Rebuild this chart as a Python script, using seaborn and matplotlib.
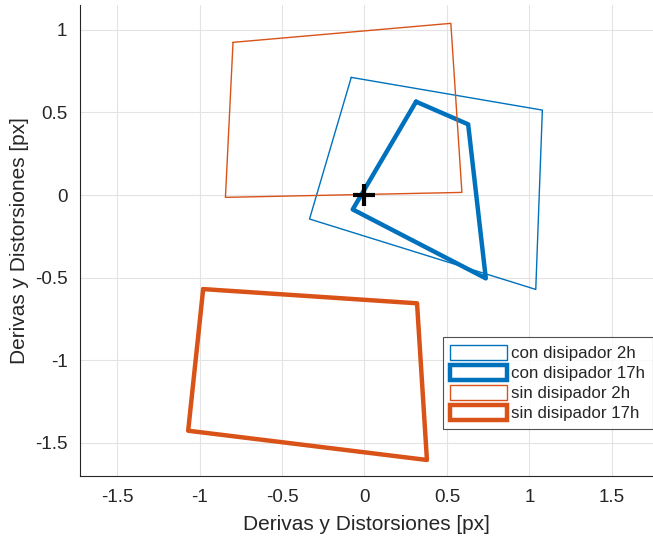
import matplotlib
matplotlib.use("Agg")
import matplotlib.pyplot as plt
import seaborn as sns
import pandas as pd
from matplotlib.patches import Patch

# Data (polygon vertices, closed)
con2h_x = [-0.08, 1.079, 1.039, -0.333, -0.08]
con2h_y = [0.712, 0.514, -0.571, -0.145, 0.712]
con17h_x = [0.313, 0.629, 0.736, -0.071, 0.313]
con17h_y = [0.565, 0.428, -0.504, -0.087, 0.565]
sin2h_x = [-0.797, 0.524, 0.591, -0.843, -0.797]
sin2h_y = [0.924, 1.039, 0.016, -0.014, 0.924]
sin17h_x = [-0.978, 0.319, 0.379, -1.069, -0.978]
sin17h_y = [-0.569, -0.655, -1.603, -1.426, -0.569]
labels = ["con disipador 2h", "con disipador 17h", "sin disipador 2h", "sin disipador 17h"]
origin_x = [0.0]
origin_y = [0.0]
xticks = [-1.5, -1, -0.5, 0, 0.5, 1, 1.5]
yticks = [-1.5, -1, -0.5, 0, 0.5, 1]

blue = "#0072BD"
orange = "#D95319"

sns.set_style("white")
plt.rcParams['font.family'] = ['Liberation Sans', 'DejaVu Sans']

fig = plt.figure(figsize=(6.53, 5.37), dpi=100)
ax = fig.add_axes([80/653, 61/537, 1 - 80/653, (476-5)/537])

series = [
    (con2h_x, con2h_y, blue, 1.0),
    (con17h_x, con17h_y, blue, 3.2),
    (sin2h_x, sin2h_y, orange, 1.0),
    (sin17h_x, sin17h_y, orange, 3.2),
]
handles = []
for (xs, ys, c, lw), lab in zip(series, labels):
    df = pd.DataFrame({"x": xs, "y": ys})
    sns.lineplot(data=df, x="x", y="y", sort=False, estimator=None, color=c,
                 linewidth=lw, ax=ax, zorder=3)
    handles.append(Patch(facecolor="white", edgecolor=c, linewidth=lw, label=lab))

ax.plot(origin_x, origin_y, marker="+", color="black", markersize=16, markeredgewidth=3, zorder=5)

ax.set_xlim(-1.725, 1.75)
ax.set_ylim(-1.70, 1.15)
ax.set_xticks(xticks)
ax.set_xticklabels(["-1.5", "-1", "-0.5", "0", "0.5", "1", "1.5"])
ax.set_yticks(yticks)
ax.set_yticklabels(["-1.5", "-1", "-0.5", "0", "0.5", "1"])
ax.grid(True, color="#e3e3e3", linewidth=0.8)
ax.set_axisbelow(True)
ax.tick_params(direction="in", length=5, width=0.8, colors="#262626", labelsize=13.5, pad=9)
for s in ["top", "right"]:
    ax.spines[s].set_visible(False)
for s in ["left", "bottom"]:
    ax.spines[s].set_color("#262626")
    ax.spines[s].set_linewidth(0.8)

ax.set_xlabel("Derivas y Distorsiones [px]", fontsize=15, color="#262626", labelpad=7)
ax.set_ylabel("Derivas y Distorsiones [px]", fontsize=15, color="#262626", labelpad=4)

leg = ax.legend(handles=handles, loc="lower left", bbox_to_anchor=(0.633, 0.10),
                fontsize=12.2, frameon=True, fancybox=False, handlelength=3.35,
                handleheight=1.05, handletextpad=0.25, borderpad=0.45, labelspacing=0.2,
                borderaxespad=0)
leg.get_frame().set_edgecolor("#262626")
leg.get_frame().set_linewidth(0.8)

fig.savefig("out.png", dpi=100)
